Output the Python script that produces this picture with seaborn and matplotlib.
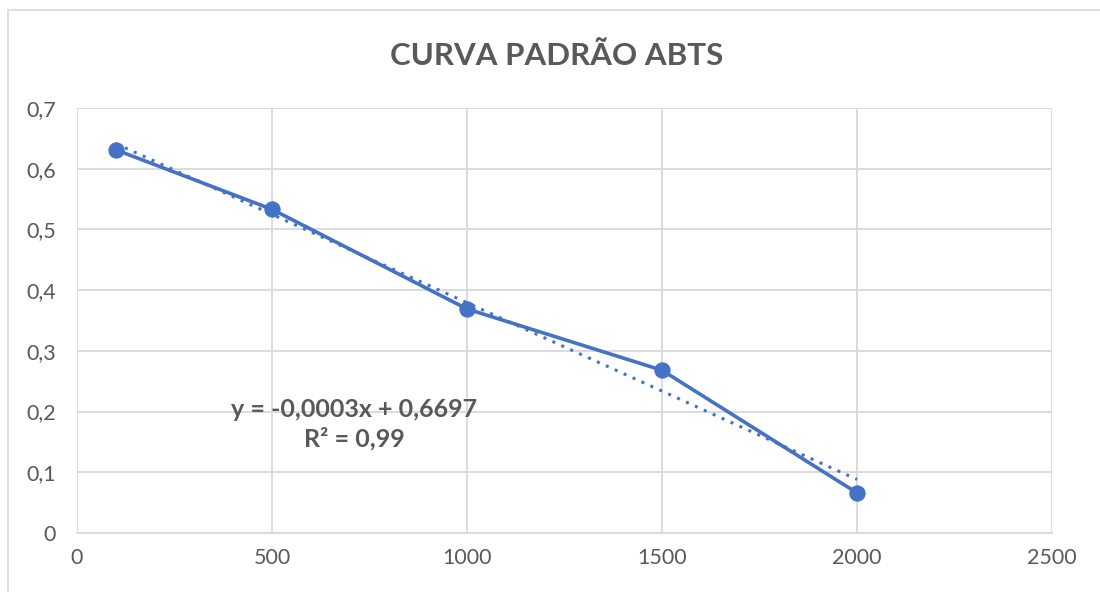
import matplotlib
matplotlib.use("Agg")
import matplotlib.pyplot as plt
import seaborn as sns
import numpy as np
import pandas as pd
from matplotlib.ticker import FuncFormatter, MultipleLocator
from matplotlib.patches import Rectangle

concentracao = [100, 500, 1000, 1500, 2000]
absorbancia = [0.631, 0.533, 0.369, 0.268, 0.066]
titulo = "CURVA PADRÃO ABTS"
equacao = "y = -0,0003x + 0,6697"
r2_texto = "R² = 0,99"

df = pd.DataFrame({"x": concentracao, "y": absorbancia})
coef = np.polyfit(df["x"], df["y"], 1)
df["fit"] = np.polyval(coef, df["x"])

sns.set_theme(style="white")
plt.rcParams["font.family"] = ["Lato", "DejaVu Sans"]

azul = "#4472C4"
cinza = "#595959"
grade = "#D9D9D9"

fig = plt.figure(figsize=(11, 5.92), dpi=100)
ax = fig.add_axes([0.07, 0.0997, 0.8864, 0.7179])

fig.patches.append(Rectangle((0.0073, -0.1), 1.2, 0.1 + 0.983, transform=fig.transFigure,
                             fill=False, edgecolor=grade, linewidth=1.2))

sns.lineplot(data=df, x="x", y="fit", ax=ax, color=azul, linestyle=(0, (1, 2.2)),
             linewidth=2.2, zorder=3)
sns.lineplot(data=df, x="x", y="y", ax=ax, color=azul, linewidth=2.6, marker="o",
             markersize=11, markeredgecolor=azul, zorder=4)

ax.set_xlim(0, 2500)
ax.set_ylim(0, 0.7)
ax.xaxis.set_major_locator(MultipleLocator(500))
ax.yaxis.set_major_locator(MultipleLocator(0.1))
ax.yaxis.set_major_formatter(FuncFormatter(lambda v, p: "0" if abs(v) < 1e-9 else f"{v:.1f}".replace(".", ",")))
ax.xaxis.set_major_formatter(FuncFormatter(lambda v, p: f"{v:.0f}"))
ax.grid(True, color=grade, linewidth=1.3)
ax.set_axisbelow(True)
for s in ["top", "right", "left"]:
    ax.spines[s].set_visible(False)
ax.spines["bottom"].set_color(grade)
ax.spines["bottom"].set_linewidth(1.3)
ax.tick_params(axis="both", length=0, labelsize=15.5, colors=cinza)
ax.tick_params(axis="y", pad=15)
ax.tick_params(axis="x", pad=11)
ax.set_xlabel("")
ax.set_ylabel("")

fig.text(0.506, 0.905, titulo, ha="center", va="center", fontsize=22.5,
         fontweight="bold", color=cinza)
ax.text(0.284, 0.256, equacao + "\n" + r2_texto, transform=ax.transAxes, ha="center",
        va="center", fontsize=18, fontweight="bold", color=cinza, linespacing=1.3)

fig.savefig("out.png", dpi=100)
